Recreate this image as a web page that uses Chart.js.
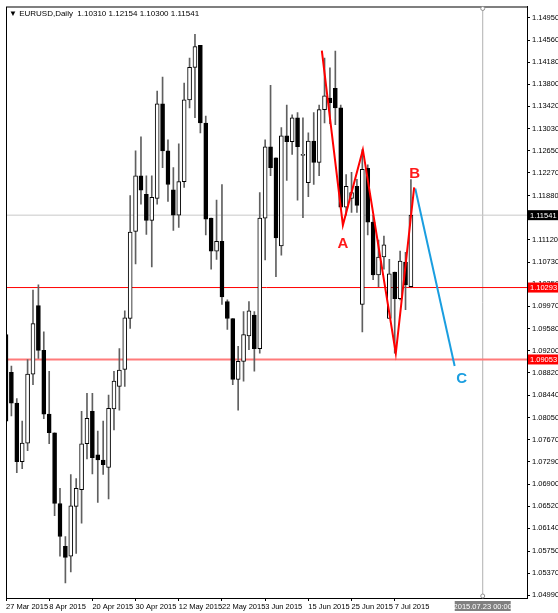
<!DOCTYPE html>
<html>
<head>
<meta charset="utf-8">
<script src="https://cdn.jsdelivr.net/npm/chart.js@4.4.1/dist/chart.umd.min.js"></script>
<style>
  html, body { margin: 0; padding: 0; background: #fff; }
  canvas { display: block; }
</style>
</head>
<body>
<canvas id="eurusd" width="558" height="613"></canvas>
<script>
// EURUSD daily candles, one entry per trading day from 27 Mar 2015
const opens  = [1.0948,1.0883,1.0830,1.0729,1.0761,1.0880,1.0998,1.0921,1.0811,1.0779,1.0657,1.0583,1.0566,1.0652,1.0681,1.0760,
                1.0816,1.0741,1.0732,1.0719,1.0820,1.0859,1.0888,1.0976,1.1126,1.1222,1.1190,1.1145,1.1183,1.1346,1.1265,1.1198,
                1.1154,1.1212,1.1353,1.1409,1.1447,1.1313,1.1149,1.1092,1.1109,1.1005,1.0976,1.0871,1.0902,1.0946,1.0982,1.0924,
                1.1149,1.1272,1.1253,1.1101,1.1291,1.1281,1.1322,1.1257,1.1210,1.1282,1.1245,1.1336,1.1356,1.1373,1.1339,1.1168,
                1.1183,1.1204,1.1000,1.1235,1.1142,1.1051,1.1082,1.0976,1.1056,1.1010,1.1073,1.10310];
const highs  = [1.0953,1.0894,1.0838,1.0799,1.0905,1.1025,1.1034,1.0953,1.0885,1.0779,1.0683,1.0600,1.0707,1.0700,1.0816,1.0847,
                1.0847,1.0782,1.0799,1.0844,1.0885,1.0924,1.0989,1.1188,1.1265,1.1289,1.1222,1.1222,1.1368,1.1392,1.1284,1.1236,
                1.1277,1.1382,1.1425,1.1466,1.1447,1.1325,1.1149,1.1180,1.1207,1.1008,1.0976,1.0928,1.0988,1.1005,1.0988,1.1193,
                1.1284,1.1378,1.1253,1.1305,1.1344,1.1327,1.1331,1.1322,1.1296,1.1331,1.1344,1.1425,1.1408,1.1437,1.1344,1.1224,
                1.1228,1.1216,1.1267,1.1241,1.1154,1.1111,1.1118,1.1078,1.1056,1.1092,1.1090,1.12154];
const lows   = [1.0790,1.0808,1.0710,1.0717,1.0748,1.0862,1.0907,1.0803,1.0760,1.0636,1.0566,1.0520,1.0539,1.0571,1.0623,1.0734,
                1.0708,1.0659,1.0707,1.0665,1.0784,1.0818,1.0859,1.0959,1.1070,1.1173,1.1121,1.1065,1.1173,1.1236,1.1178,1.1128,
                1.1133,1.1202,1.1339,1.1322,1.1296,1.1120,1.1061,1.1078,1.1000,1.0957,1.0862,1.0818,1.0868,1.0922,1.0885,1.0916,
                1.1077,1.1222,1.1048,1.1085,1.1214,1.1259,1.1180,1.1150,1.1186,1.1207,1.1222,1.1313,1.1312,1.1310,1.1164,1.1154,
                1.1159,1.1159,1.0953,1.1120,1.1043,1.1031,1.1061,1.0976,1.0916,1.1008,1.0991,1.10300];
const closes = [1.0799,1.0830,1.0729,1.0761,1.0880,1.0967,1.0921,1.0811,1.0779,1.0657,1.0600,1.0564,1.0653,1.0683,1.0760,1.0804,
                1.0736,1.0732,1.0724,1.0821,1.0868,1.0887,1.0977,1.1125,1.1222,1.1197,1.1145,1.1185,1.1346,1.1265,1.1207,1.1154,
                1.1212,1.1353,1.1409,1.1445,1.1313,1.1147,1.1092,1.1109,1.1013,1.0976,1.0871,1.0902,1.0948,1.0989,1.0924,1.1149,
                1.1272,1.1236,1.1115,1.1291,1.1281,1.1322,1.1272,1.1259,1.1282,1.1245,1.1336,1.1360,1.1348,1.1339,1.1168,1.1204,
                1.1193,1.1171,1.1233,1.1142,1.1051,1.1082,1.1103,1.1053,1.1010,1.1075,1.1034,1.11541];

const dateLabels = ['27 Mar 2015','8 Apr 2015','20 Apr 2015','30 Apr 2015','12 May 2015','22 May 2015','3 Jun 2015','15 Jun 2015','25 Jun 2015','7 Jul 2015'];
const dateIndex  = [0, 8, 16, 24, 32, 40, 48, 56, 64, 72];
const priceTicks = [1.14950,1.14560,1.14180,1.13800,1.13420,1.13030,1.12650,1.12270,1.11880,1.11500,1.11120,1.10730,1.10350,
                    1.09970,1.09580,1.09200,1.08820,1.08440,1.08050,1.07670,1.07290,1.06900,1.06520,1.06140,1.05750,1.05370,1.04990];

// hand-drawn wave A-B and projected leg to C
const waveX = [58.5, 62.4, 66.1, 72.2, 75.6];
const waveY = [1.1438, 1.1137, 1.1267, 1.0916, 1.1202];
const projX = [75.8, 83.1];
const projY = [1.1200, 1.0894];
const waveNames = ['A', 'B', 'C'];
const nameX = [62.4, 75.7, 84.4];
const nameY = [1.1105, 1.1226, 1.0872];

const levelHigh = 1.10293;
const levelLow = 1.09053;
const lastPrice = 1.11541;
const markerIdx = 88.3;
const markerText = '2015.07.23 00:00';

const xMin = 0, xMax = 96.5, yMin = 1.04940, yMax = 1.15139;

const up = opens.map((o, i) => closes[i] >= o);
const wicks = highs.map((h, i) => ({ x: i, y: [lows[i], h] }));
const bodies = opens.map((o, i) => ({ x: i, y: [o, closes[i]] }));
const pts = (xs, ys) => xs.map((x, i) => ({ x: x, y: ys[i] }));
const FONT = '"Liberation Sans", sans-serif';

const overlay = {
  id: 'overlay',
  afterDraw(chart) {
    const c = chart.ctx, a = chart.chartArea;
    const xs = chart.scales.x, ys = chart.scales.y;
    c.save();
    c.strokeStyle = '#000';
    c.lineWidth = 1;
    c.strokeRect(a.left + 0.5, a.top + 0.5, a.right - a.left, a.bottom - a.top);

    // wave letters
    c.font = 'bold 15px ' + FONT;
    c.textAlign = 'center';
    c.textBaseline = 'middle';
    waveNames.forEach((n, i) => {
      c.fillStyle = n === 'C' ? '#1a9ee0' : '#ff1a1a';
      c.fillText(n, xs.getPixelForValue(nameX[i]), ys.getPixelForValue(nameY[i]));
    });

    // price boxes on the axis
    c.font = '7.5px ' + FONT;
    c.textAlign = 'left';
    const box = (v, bg, fg) => {
      const y = ys.getPixelForValue(v);
      c.fillStyle = bg;
      c.fillRect(a.right + 1, y - 5, 30, 10);
      c.fillStyle = fg;
      c.fillText(v.toFixed(5), a.right + 3, y + 0.5);
    };
    box(levelHigh, '#ff0000', '#fff');
    box(levelLow, '#ff0000', '#fff');
    box(lastPrice, '#000', '#fff');

    // time marker label
    const mx = xs.getPixelForValue(markerIdx);
    c.fillStyle = '#808080';
    c.fillRect(mx - 28, a.bottom + 3, 56, 10);
    c.fillStyle = '#fff';
    c.textAlign = 'center';
    c.fillText(markerText, mx, a.bottom + 8.5);
    c.strokeStyle = '#909090';
    c.fillStyle = '#fff';
    [a.top + 2, a.bottom - 2].forEach(yy => {
      c.beginPath(); c.arc(mx, yy, 2, 0, Math.PI * 2); c.fill(); c.stroke();
    });

    // title
    c.fillStyle = '#000';
    c.textAlign = 'left';
    c.font = '8px ' + FONT;
    c.fillText('\u25BC EURUSD,Daily  1.10310 1.12154 1.10300 1.11541', a.left + 3, a.top + 7);
    c.restore();
  }
};

const hLine = (v, color, w) => ({
  type: 'line', data: [{ x: xMin, y: v }, { x: xMax, y: v }],
  borderColor: color, borderWidth: w, pointRadius: 0, order: 5
});

new Chart(document.getElementById('eurusd'), {
  data: {
    datasets: [
      hLine(lastPrice, '#c8c8c8', 1),
      hLine(levelHigh, '#ff0000', 1),
      hLine(levelLow, '#ff7a7a', 2),
      {
        type: 'line', data: [{ x: markerIdx, y: yMin }, { x: markerIdx, y: yMax }],
        borderColor: '#b0b0b0', borderWidth: 1, pointRadius: 0, order: 5
      },
      {
        type: 'bar', data: wicks, backgroundColor: '#606060',
        barThickness: 1, grouped: false, order: 3
      },
      {
        type: 'bar', data: bodies,
        backgroundColor: up.map(u => u ? '#ffffff' : '#000000'),
        borderColor: '#000', borderWidth: 1, borderSkipped: false,
        barThickness: 4, minBarLength: 1, grouped: false, order: 2
      },
      {
        type: 'line', data: pts(waveX, waveY), borderColor: '#ff0000',
        borderWidth: 2, pointRadius: 0, order: 1
      },
      {
        type: 'line', data: pts(projX, projY), borderColor: '#1a9ee0',
        borderWidth: 2, pointRadius: 0, order: 1
      }
    ]
  },
  options: {
    responsive: false,
    animation: false,
    layout: { padding: { left: 6, top: 3 } },
    plugins: { legend: { display: false }, tooltip: { enabled: false } },
    scales: {
      x: {
        type: 'linear', min: xMin, max: xMax, offset: false,
        afterBuildTicks: s => { s.ticks = dateIndex.map(v => ({ value: v })); },
        afterFit: s => { s.height = 15; },
        ticks: {
          autoSkip: false, maxRotation: 0, align: 'start', padding: 1, color: '#000',
          font: { family: 'Liberation Sans', size: 7.5 },
          callback: v => dateLabels[dateIndex.indexOf(v)]
        },
        grid: { drawOnChartArea: false, tickLength: 3, color: '#000', offset: false },
        border: { display: true, color: '#000' }
      },
      y: {
        type: 'linear', position: 'right', min: yMin, max: yMax,
        afterBuildTicks: s => { s.ticks = priceTicks.map(v => ({ value: v })); },
        afterFit: s => { s.width = 31; },
        ticks: {
          padding: 2, color: '#000',
          font: { family: 'Liberation Sans', size: 7.5 },
          callback: v => v.toFixed(5)
        },
        grid: { drawOnChartArea: false, tickLength: 3, color: '#000' },
        border: { display: true, color: '#000' }
      }
    }
  },
  plugins: [overlay]
});
</script>
</body>
</html>
